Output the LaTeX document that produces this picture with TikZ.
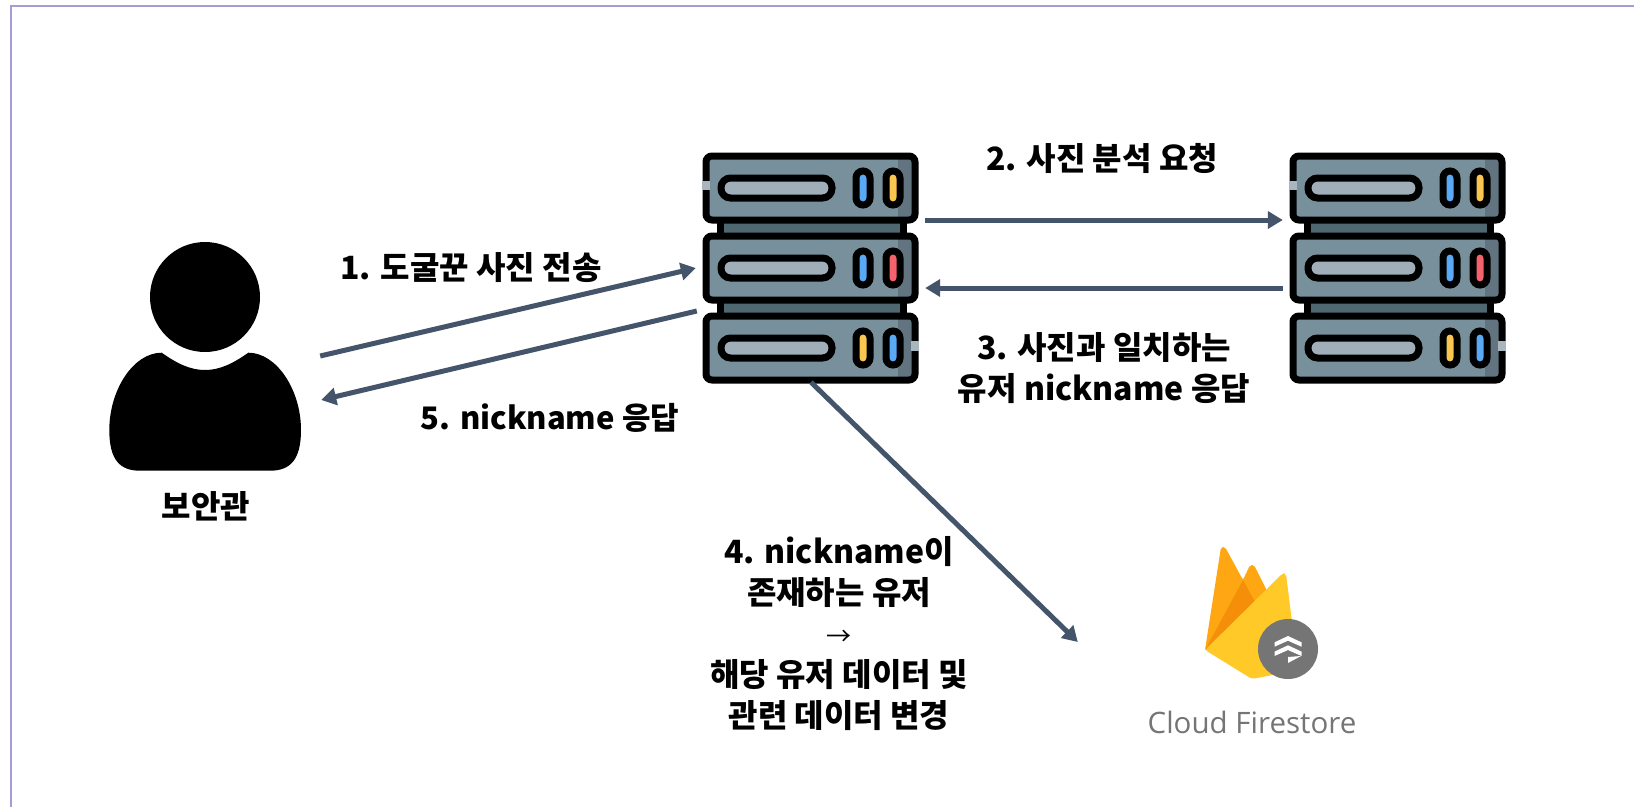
\documentclass[tikz,border=0pt]{standalone}
\usepackage{xcolor}
\usepackage{fontspec}
\setmainfont{Noto Sans CJK KR}
\newfontfamily\cloudfont{Open Sans}
\usetikzlibrary{positioning, arrows.meta}

\definecolor{framecol}{HTML}{A79BD5}
\definecolor{flowcol}{HTML}{44546A}
\definecolor{rackcol}{HTML}{78909C}
\definecolor{rackdark}{HTML}{62747F}
\definecolor{rackjoin}{HTML}{4F6770}
\definecolor{rackslot}{HTML}{A0AEBA}
\definecolor{racknotch}{HTML}{A9B6BD}
\definecolor{ledblue}{HTML}{5AA9F5}
\definecolor{ledyellow}{HTML}{F9C74F}
\definecolor{ledred}{HTML}{F4626C}
\definecolor{fireorange}{HTML}{FFA712}
\definecolor{firedeep}{HTML}{F58F0A}
\definecolor{fireyellow}{HTML}{FFCA28}
\definecolor{cloudgrey}{HTML}{757575}

\begin{document}
\begin{tikzpicture}[x=1pt, y=-1pt, node distance=100pt]
    % Styles
    \tikzset{
        hold/.style    = {rectangle, inner sep=0pt},
        caption/.style = {inner sep=0pt, align=center, font=\fontsize{32}{41}\selectfont\bfseries},
        line/.style    = {draw=flowcol, line width=5pt, -{Triangle[length=15pt, width=17pt]}},
        serverrack/.pic = {
            % Joints between the three units
            \foreach \rowy in {-40, 40} {
                \filldraw[fill=rackjoin, draw=black, line width=7pt] (-91, \rowy-9) rectangle (92, \rowy+9);
            }
            \foreach \rowy/\ledl/\ledr in {-80/ledblue/ledyellow, 0/ledblue/ledred, 80/ledyellow/ledblue} {
                \fill[rackcol, rounded corners=6pt] (-105, \rowy-32) rectangle (104, \rowy+32);
                \fill[rackdark] (87, \rowy-29) rectangle (101, \rowy+29);
                \draw[line width=7pt, rounded corners=6pt] (-105, \rowy-32) rectangle (104, \rowy+32);
                \filldraw[fill=rackslot, line width=7pt, rounded corners=9.5pt] (-90, \rowy-10) rectangle (21, \rowy+10);
                \filldraw[fill=\ledl, line width=7pt, rounded corners=7pt] (45, \rowy-17) rectangle (59, \rowy+17);
                \filldraw[fill=\ledr, line width=7pt, rounded corners=7pt] (75, \rowy-17) rectangle (89, \rowy+17);
            }
            % Small gaps in the outline
            \draw[line width=7.5pt, racknotch] (-105, -87) -- (-105, -78);
            \draw[line width=7.5pt, racknotch] (104, 73) -- (104, 83);
        }
    }

    \useasboundingbox (0,0) rectangle (1634,807);
    \fill[white] (0,0) rectangle (1634,807);
    \draw[framecol, line width=2pt] (11,807) -- (11,6) -- (1634,6);

    % Main nodes
    \node [hold, minimum width=192pt, minimum height=224pt] (user) at (206,360) {};
    \node [hold, minimum width=216pt, minimum height=230pt, right of=user, xshift=505pt, yshift=92pt] (srvA) {};
    \node [hold, minimum width=216pt, minimum height=230pt, right of=srvA, xshift=487pt] (srvB) {};
    \node [hold, minimum width=114pt, minimum height=132pt, below of=srvB, xshift=-136pt, yshift=-246pt] (firelogo) {};

    % Person
    \fill (205,297) circle (55);
    \fill (161.7,352.7) .. controls (176.7,363.3) and (190,370) .. (205,370)
        .. controls (220,370) and (233.3,363.3) .. (248.3,352.7)
        .. controls (276.7,352.7) and (301,390) .. (301,430)
        .. controls (301,460) and (290,470.7) .. (270,470.7)
        -- (140,470.7)
        .. controls (120,470.7) and (109.3,460) .. (109.3,430)
        .. controls (109.3,390) and (133.3,352.7) .. (161.7,352.7) -- cycle;

    % Servers
    \pic at (srvA) {serverrack};
    \pic at (srvB) {serverrack};

    % Firestore logo
    \fill[fireorange, rounded corners=2pt] (1205,650) -- (1221,547) -- (1225,547) -- (1243,580) -- (1250,565) -- (1254,565) -- (1268,593) -- (1230,650) -- cycle;
    \fill[firedeep] (1205,650) -- (1243,580) -- (1255,602) -- cycle;
    \fill[fireyellow, rounded corners=3pt] (1205,650) -- (1283,573) -- (1286,574) -- (1298,670) -- (1252,679) -- cycle;
    \fill[cloudgrey] (1288,649) circle (30);
    \foreach \chevy in {0, 9.3} {
        \fill[white] (1288,636+\chevy) -- (1301.5,642.3+\chevy) -- (1301.5,646.7+\chevy) -- (1288,640.7+\chevy) -- (1274.5,646.7+\chevy) -- (1274.5,642.3+\chevy) -- cycle;
    }
    \fill[white] (1288,657) -- (1301,656) -- (1288,663) -- cycle;

    % Captions
    \node [caption, below of=user, yshift=-46pt] (guard) {보안관};
    \node [caption, right of=user, xshift=165pt, yshift=92pt] (cap1) {1. 도굴꾼 사진 전송};
    \node [caption, right of=srvA, xshift=191pt, yshift=110pt] (cap2) {2. 사진 분석 요청};
    \node [caption, right of=srvA, xshift=193pt, yshift=-100pt] (cap3) {3. 사진과 일치하는\\유저 nickname 응답};
    \node [caption, below of=srvA, xshift=28pt, yshift=-266pt] (cap4) {4. nickname이\\존재하는 유저\\{\fontsize{25}{41}\selectfont\mdseries →}\\해당 유저 데이터 및\\관련 데이터 변경};
    \node [caption, right of=user, xshift=244pt, yshift=-58pt, font=\fontsize{31}{40}\selectfont\bfseries] (cap5) {5. nickname 응답};
    \node [inner sep=0pt, below of=firelogo, xshift=-10pt, yshift=-8pt, text=cloudgrey, font=\fontsize{29.5}{36}\selectfont\cloudfont] (cloud) {Cloud Firestore};

    % Connections
    \path [line] ([shift={(18,-4)}]user.east) -- ([shift={(-7,0)}]srvA.west);
    \path [line] ([shift={(6,-48)}]srvA.east) -- ([shift={(-7,-48)}]srvB.west);
    \path [line] ([shift={(-7,20)}]srvB.west) -- ([shift={(6,20)}]srvA.east);
    \path [line] ([shift={(0,-1)}]srvA.south) -- ([shift={(-127,28)}]firelogo.west);
    \path [line] ([shift={(-6,43)}]srvA.west) -- ([shift={(19,40)}]user.east);
\end{tikzpicture}
\end{document}
